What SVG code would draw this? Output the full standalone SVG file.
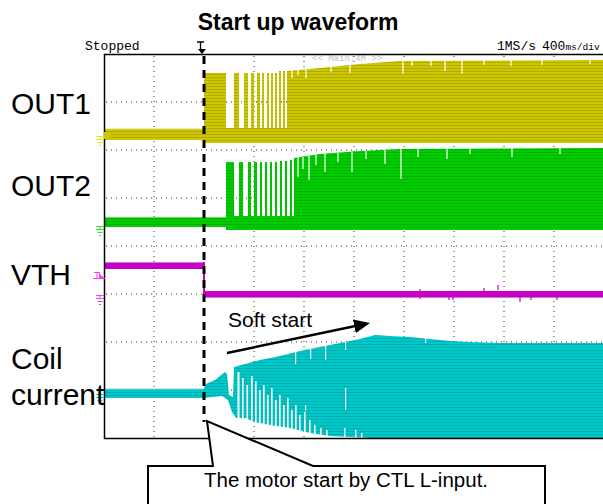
<svg xmlns="http://www.w3.org/2000/svg" width="603" height="504" viewBox="0 0 603 504">
<defs>
<pattern id="pY" width="6" height="3" patternUnits="userSpaceOnUse"><rect width="6" height="3" fill="#ccc700"/><rect y="2" width="6" height="1" fill="#b2ac00"/></pattern>
<pattern id="pG" width="6" height="3" patternUnits="userSpaceOnUse"><rect width="6" height="3" fill="#00cc00"/><rect y="2" width="6" height="1" fill="#00b400"/></pattern>
<pattern id="pC" width="6" height="3" patternUnits="userSpaceOnUse"><rect width="6" height="3" fill="#00c8c8"/><rect y="2" width="6" height="1" fill="#00b0b0"/></pattern>
<marker id="ah" markerUnits="userSpaceOnUse" markerWidth="16" markerHeight="14" refX="6" refY="7" orient="auto"><path d="M0,0 L16,7 L0,14 z" fill="#000"/></marker>
<style>
.lbl{font-family:"Liberation Sans",Arial,sans-serif;font-size:30px;fill:#000}
.mono{font-family:"Liberation Mono","DejaVu Sans Mono",monospace;font-size:13px;fill:#000}
.grid{stroke:#333;stroke-width:1;stroke-dasharray:1 4;fill:none}
.wg{fill:#fff}
</style>
</defs>
<rect width="603" height="504" fill="#fff"/>

<g id="title"><text x="298" y="30" text-anchor="middle" font-family="'Liberation Sans',Arial,sans-serif" font-weight="bold" font-size="23">Start up waveform</text></g>

<g id="scope-header">
<text class="mono" x="85" y="50">Stopped</text>
<text class="mono" x="497" y="50">1MS/s</text>
<text class="mono" x="542" y="50">400<tspan font-size="9.5">ms/div</tspan></text>
<path d="M197 42 h7 M200.5 42 v9" stroke="#000" stroke-width="1.3" fill="none"/>
<path d="M198 49 h8 l-4 5 z" fill="#000"/>
<text x="312" y="61" font-family="'Liberation Mono',monospace" font-size="9" fill="#c4c4c4">&lt;&lt; Main:4M &gt;&gt;</text>
</g>

<g id="grid">
<path class="grid" d="M154 56 V438 M254 56 V438 M304 56 V438 M354 56 V438 M404 56 V438 M454 56 V438 M504 56 V438 M554 56 V438"/>
<path class="grid" d="M106 102 H603 M106 150 H603 M106 198 H603 M106 246 H603 M106 294 H603 M106 342 H603 M106 390 H603"/>
</g>

<g id="OUT1-trace">
<rect x="104" y="129" width="100" height="11" fill="url(#pY)"/>
<path d="M104 129 h100" stroke="#dcd860" stroke-width="1"/>
<rect x="204" y="128" width="399" height="15" fill="url(#pY)"/>
<rect x="204" y="73" width="22" height="70" fill="url(#pY)"/>
<path fill="url(#pY)" d="M234 73h5v57h-5z M244 73h4v57h-4z M251 73h3v57h-3z M257 73h3v57h-3z M262 73h2v57h-2z M267 73h2v57h-2z M271 73h2v57h-2z M275 73h2v57h-2z M279 71h2v59h-2z M283 71h2v59h-2z"/>
<polygon fill="url(#pY)" points="287,71 320,68 360,64 400,61 603,60 603,143 287,143"/>
<path stroke="#fff" stroke-width="1.2" d="M292 70v8 M298 69v6 M306 68v10 M331 66v6 M350 65v8 M403 60v14 M412 60v6 M431 60v6 M445 60v11 M462 60v14 M484 60v5 M511 60v6 M542 60v5 M590 60v4"/>
</g>

<g id="OUT2-trace">
<rect x="104" y="217" width="122" height="10" fill="url(#pG)"/>
<path d="M104 217.5 h122" stroke="#66e066" stroke-width="1"/>
<rect x="226" y="216" width="377" height="14" fill="url(#pG)"/>
<rect x="226" y="162" width="8" height="68" fill="url(#pG)"/>
<path fill="url(#pG)" d="M239 162h4v56h-4z M248 162h3v56h-3z M254 162h3v56h-3z M260 162h2v56h-2z M265 162h2v56h-2z M270 162h2v56h-2z M275 162h2v56h-2z M280 161h2v57h-2z M285 161h2v57h-2z M290 160h2v58h-2z"/>
<polygon fill="url(#pG)" points="294,158 320,154 360,151 400,149 603,148 603,230 294,230"/>
<path stroke="#fff" stroke-width="1.2" d="M298 157v20 M303 157v12 M309 156v24 M316 155v10 M325 154v18 M338 153v9 M352 152v20 M366 151v8 M385 150v14 M401 149v30 M418 149v8 M447 149v10 M470 148v6 M512 148v9 M560 148v6"/>
</g>

<g id="VTH-trace">
<rect x="104" y="262" width="100" height="7" fill="#c400c4"/>
<path d="M104 262.5h100" stroke="#e070e0" stroke-width="1"/>
<rect x="203" y="262" width="2" height="35" fill="#c400c4"/>
<rect x="204" y="291" width="399" height="6" fill="#c400c4"/>
<path d="M204 297.5h399" stroke="#e070e0" stroke-width="1"/>
<path stroke="#c400c4" stroke-width="1.2" d="M420 289v10 M449 296v4 M453 296v4 M484 288v4 M498 285v5 M520 297v5 M531 297v3 M557 297v3"/>
</g>

<g id="coil-trace">
<rect x="104" y="389" width="100" height="9" fill="url(#pC)"/>
<path d="M104 389h100" stroke="#70e0e0" stroke-width="1"/>
<polygon fill="url(#pC)" points="204,388 206,384 215,380 225,372 227,374 229,395 233,397 234,367 245,364 260,360 280,356 300,351 320,347 340,343 360,339 375,335 390,336 410,337 430,339 450,341 470,342 500,343 603,343 603,438 370,438 350,437 330,436 310,433 290,428 270,425 255,422 245,418 236,418 232,412 228,400 222,396 204,398"/>
<g class="wg">
<rect x="237.5" y="372" width="2" height="48"/>
<rect x="242" y="378" width="1.6" height="42"/>
<rect x="246.5" y="385" width="1.6" height="36"/>
<rect x="251" y="376" width="1.6" height="46"/>
<rect x="255" y="381" width="1.6" height="41"/>
<rect x="259" y="390" width="1.6" height="33"/>
<rect x="263" y="385" width="1.6" height="39"/>
<rect x="267" y="395" width="1.6" height="30"/>
<rect x="271" y="388" width="1.6" height="37"/>
<rect x="275" y="400" width="1.6" height="26"/>
<rect x="279" y="395" width="1.6" height="32"/>
<rect x="283" y="405" width="1.6" height="23"/>
<rect x="287" y="398" width="1.6" height="30"/>
<rect x="291" y="410" width="1.6" height="20"/>
<rect x="295" y="405" width="1.6" height="26"/>
<rect x="299" y="415" width="1.6" height="17"/>
<rect x="304" y="412" width="1.6" height="21"/>
<rect x="309" y="420" width="1.6" height="14"/>
<rect x="314" y="425" width="1.6" height="10"/>
<rect x="320" y="428" width="1.6" height="8"/>
<rect x="326" y="430" width="1.6" height="7"/>
<rect x="344" y="428" width="1.4" height="9"/>
<rect x="355" y="430" width="1.4" height="8"/>
<rect x="361" y="433" width="1.4" height="5"/>
<rect x="325" y="346" width="1.2" height="14"/>
<rect x="310" y="349" width="1.2" height="10"/>
<rect x="295" y="352" width="1.2" height="12"/>
<rect x="345" y="342" width="1.2" height="8"/>
<rect x="305" y="405" width="1.2" height="6"/>
<rect x="345" y="388" width="1.2" height="22"/>
<rect x="425" y="337" width="1.2" height="6"/>
</g>
</g>

<g id="frame">
<path d="M104.5 54 V439 M104 54.5 H603 M104 438.5 H603" stroke="#000" stroke-width="1.5" fill="none"/>
</g>

<g id="channel-markers" fill="none" stroke-width="1">
<path d="M96 136.5h8 M100 136.5v3 M96 139.5h8 M97.5 142.5h5 M99 145.5h2" stroke="#e8e800"/>
<rect x="104" y="132" width="6" height="7" fill="#ccc700"/>
<path d="M96 226.5h8 M100 226.5v3 M96 229.5h8 M97.5 232.5h5 M99 235.5h2" stroke="#33dd33"/>
<path d="M94 272.5h6 M97 272.5v6 M93 278.5h12" stroke="#ee44ee"/>
<path d="M99 273l5 5h-5z" fill="#ee44ee"/>
<path d="M96 295.5h8 M100 295.5v3 M96 298.5h8 M97.5 301.5h5 M99 304.5h2" stroke="#ee44ee"/>
<path d="M96 394.5h8 M100 394.5v3 M96 397.5h8 M97.5 400.5h5 M99 403.5h2" stroke="#22cccc"/>
</g>

<g id="label-OUT1"><text class="lbl" x="11" y="114">OUT1</text></g>
<g id="label-OUT2"><text class="lbl" x="11" y="196">OUT2</text></g>
<g id="label-VTH"><text class="lbl" x="11" y="285">VTH</text></g>
<g id="label-coil"><text class="lbl" x="11" y="369">Coil</text><text class="lbl" x="11" y="405">current</text></g>

<g id="trigger-line">
<path d="M204 56 V422" stroke="#000" stroke-width="3" stroke-dasharray="8 6"/>
</g>

<g id="label-softstart"><text x="228" y="327" font-family="'Liberation Sans',Arial,sans-serif" font-size="21">Soft start</text></g>

<g id="connectors">
<line x1="227" y1="353" x2="360.2" y2="325.05" stroke="#000" stroke-width="2.5" marker-end="url(#ah)"/>
</g>

<g id="callout">
<polygon points="148,466 213,466 207,421 313,466 545,466 545,512 148,512" fill="#fff" stroke="#000" stroke-width="2"/>
<text x="346" y="487" text-anchor="middle" font-family="'Liberation Sans',Arial,sans-serif" font-size="20.5">The motor start by CTL L-input.</text>
</g>
</svg>
